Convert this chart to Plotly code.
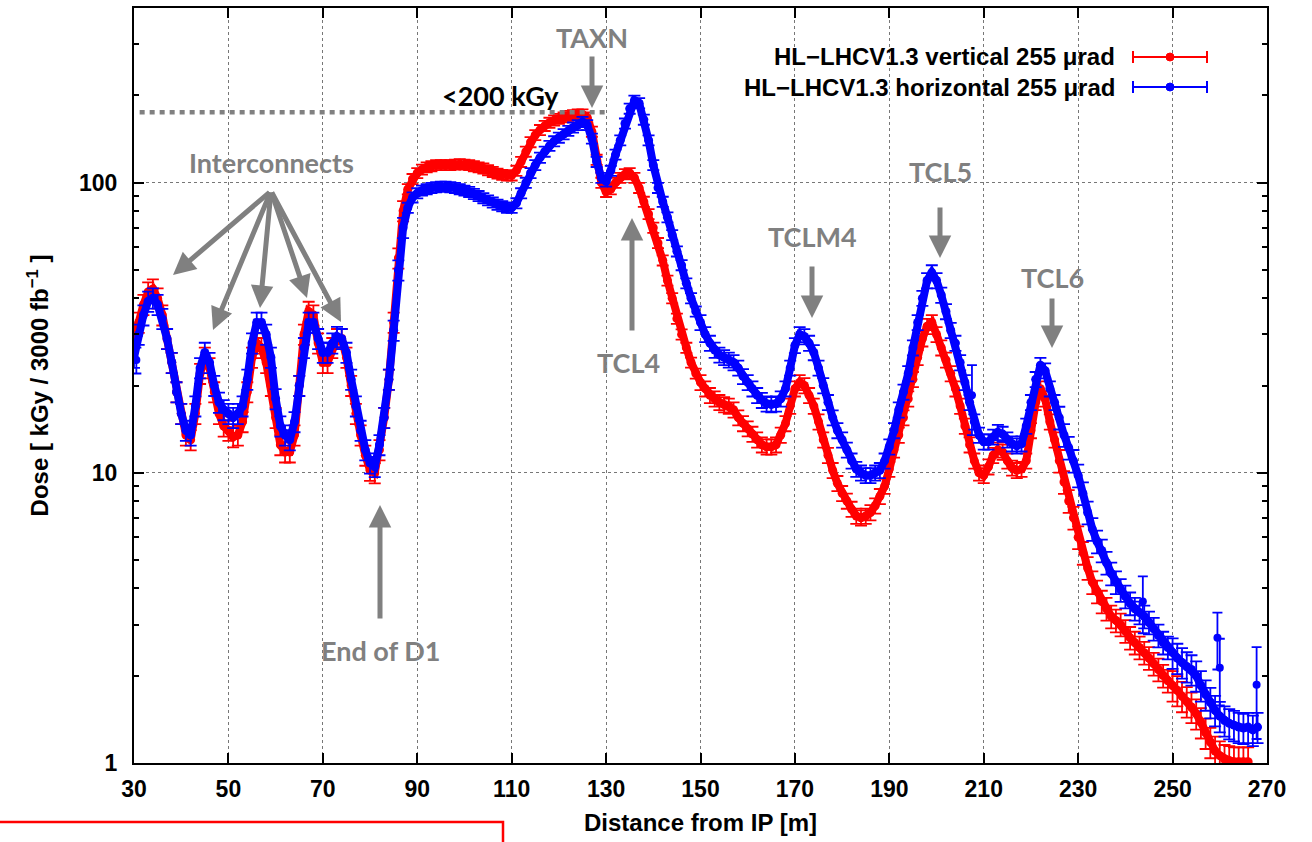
import math
import plotly.graph_objects as go

# ---------------- data ----------------
distance_red = list(range(30, 267))   # m
distance_blue = list(range(30, 269))  # m

dose_vertical = [
    30, 33, 38, 42, 43, 40, 35, 29, 24, 19,
    16, 13.5, 13, 16, 22, 25, 23, 19, 16, 14.5,
    14, 13.3, 13.5, 15, 19, 25, 28, 27, 24, 20,
    15.5, 12.5, 11.8, 11.8, 13.5, 20, 30, 36, 35, 28,
    24, 24, 27, 29, 29, 25, 20, 16, 13.5, 11.5,
    10.2, 10, 12, 15.5, 21, 33, 55, 80, 95, 103,
    108, 111, 113, 114, 115, 115, 115, 115, 115.5, 116,
    115.5, 115, 114, 113, 112, 110.5, 109, 107.5, 106.5, 106,
    106, 110, 118, 128, 138, 146, 152, 157, 161, 164,
    166, 168, 170, 171, 172, 172, 168, 150, 120, 100,
    93, 95, 100, 104, 107, 108, 104, 96, 86, 78,
    70, 62, 54, 46, 40, 34, 30, 27, 24, 22,
    20.5, 19.5, 18.5, 18, 17.5, 17.2, 17, 16.5, 15.5, 14.8,
    14.2, 13.6, 13, 12.5, 12.3, 12.3, 12.5, 13.5, 14.8, 17,
    19.5, 20.5, 20, 18.5, 17, 15, 13, 11.5, 10.2, 9.2,
    8.5, 8, 7.5, 7.1, 7.0, 7.1, 7.3, 7.7, 8.3, 9,
    10.3, 12, 13.5, 15.5, 18, 21, 25, 29, 32, 33,
    30, 27, 24.5, 22, 19.5, 17, 14.5, 12.5, 11, 10,
    9.8, 10.5, 11.5, 12, 11.8, 11, 10.4, 10.2, 10.3, 11,
    14, 17.5, 19.5, 18, 15, 13, 11, 9.3, 8, 7,
    6, 5.3, 4.7, 4.2, 3.9, 3.6, 3.4, 3.2, 3.1, 3.0,
    2.85, 2.7, 2.6, 2.5, 2.4, 2.3, 2.2, 2.1, 2.0, 1.92,
    1.85, 1.78, 1.7, 1.63, 1.56, 1.48, 1.38, 1.27, 1.18, 1.1,
    1.06, 1.03, 1.02, 1.01, 1.01, 1.01, 1.01,
]

dose_horizontal = [
    25, 30, 35, 39, 40, 38, 34, 29, 24, 19,
    16, 14, 13.5, 17, 23, 26, 24, 20, 17.5, 16.5,
    16, 15.5, 16, 17, 21, 28, 33, 33, 30, 25,
    18, 14.5, 13.5, 13, 15, 20, 27, 33, 33, 29,
    26, 26, 28, 29.5, 29, 26, 21, 17, 14, 12,
    10.8, 10.5, 12.5, 15.5, 21, 31, 50, 70, 82, 89,
    92, 94, 95, 96, 96.5, 97, 97, 96.5, 96, 95,
    94, 93, 91.5, 90, 88.5, 87, 85.5, 84, 83, 82,
    82, 85, 92, 100, 108, 115, 122, 128, 134, 139,
    143, 147, 151, 155, 158, 162, 158, 142, 118, 104,
    101, 110, 125, 140, 160, 180, 192, 188, 165, 140,
    115, 96, 86, 76, 66, 58, 52, 45, 40, 36,
    33, 30, 28, 26.5, 25.5, 25, 24.5, 24, 23, 21.5,
    20.5, 19.5, 18.5, 17.8, 17.3, 17.2, 17.3, 18, 19.5, 23,
    27.5, 30, 29.5, 28, 26, 23, 20, 17.5, 15.5, 14,
    13, 12, 11, 10.3, 10, 9.8, 9.8, 10, 10.2, 11,
    12.3, 14, 16.5, 19, 22, 27, 33, 40, 46, 49,
    46, 41, 36, 31, 28, 24, 20.5, 17.5, 15, 13.5,
    12.8, 12.8, 13.3, 13.8, 13.6, 13, 12.6, 12.4, 12.6, 14.5,
    17.5, 21, 23.5, 22.5, 19.5, 17.5, 15.5, 13.5, 12.2, 11,
    9.8, 8.5, 7.3, 6.4, 5.8, 5.4, 4.9, 4.5, 4.2, 3.95,
    3.75, 3.55, 3.4, 3.3, 3.2, 3.05, 2.9, 2.75, 2.6, 2.5,
    2.4, 2.3, 2.22, 2.15, 2.1, 2.0, 1.85, 1.72, 1.62, 1.52,
    1.45, 1.4, 1.37, 1.35, 1.33, 1.32, 1.33, 1.3, 1.33,
]

# relative statistical error by distance band: (from, to, fraction)
error_bands = [(30, 88, 0.08), (88, 150, 0.04), (150, 226, 0.06),
               (226, 250, 0.09), (250, 270, 0.12)]

# a few isolated blue points with large error bars
outlier_x = [30.5, 207.5, 243.7, 260.0, 259.5, 267.8]
outlier_y = [24.5, 18.5, 3.6, 2.13, 2.7, 1.86]
outlier_err = [2.5, 5.0, 0.8, 0.55, 0.6, 0.65]

legend_labels = ["HL\u2212LHCV1.3 vertical 255 \u03bcrad",
                 "HL\u2212LHCV1.3 horizontal 255 \u03bcrad"]
x_ticks = [30, 50, 70, 90, 110, 130, 150, 170, 190, 210, 230, 250, 270]
y_ticks = [1, 10, 100]
limit_value = 175   # "<200 kGy" reference line level
limit_x = [30, 130]

RED = "#ff0000"
BLUE = "#0000ff"
GREY = "#808080"


def rel_err(xs, ys):
    out = []
    for x, y in zip(xs, ys):
        f = 0.05
        for a, b, fr in error_bands:
            if a <= x < b:
                f = fr
                break
        out.append(y * f)
    return out


# ---------------- layout geometry (pixels) ----------------
W, H = 1312, 842
L, R, T, B = 134, 1267, 8, 763


def px(xp):
    return (xp - L) / (R - L)


def py(yp):
    return (B - yp) / (B - T)


fig = go.Figure()

for xs, ys, col, name in [(distance_red, dose_vertical, RED, legend_labels[0]),
                          (distance_blue, dose_horizontal, BLUE, legend_labels[1])]:
    fig.add_trace(go.Scatter(
        x=xs, y=ys, mode="lines+markers", name=name, showlegend=False,
        line=dict(color=col, width=8),
        marker=dict(color=col, size=9, symbol="circle"),
        error_y=dict(type="data", array=rel_err(xs, ys), color=col,
                     thickness=1.8, width=6),
    ))

fig.add_trace(go.Scatter(
    x=outlier_x, y=outlier_y, mode="markers", showlegend=False,
    marker=dict(color=BLUE, size=8),
    error_y=dict(type="data", array=outlier_err, color=BLUE, thickness=1.8, width=5),
))

shapes = []
# dashed 200 kGy line
shapes.append(dict(type="line", xref="x", yref="y", x0=limit_x[0] + 1.2, x1=limit_x[1],
                   y0=limit_value, y1=limit_value,
                   line=dict(color=GREY, width=4.5, dash="5px,5px")))

# manual legend (text left, error-bar glyph right)
for i, col in enumerate([RED, BLUE]):
    yy = 57 + 30 * i
    shapes.append(dict(type="line", xref="paper", yref="paper",
                       x0=px(1133), x1=px(1207), y0=py(yy), y1=py(yy),
                       line=dict(color=col, width=2)))
    for xc in (1133, 1207):
        shapes.append(dict(type="line", xref="paper", yref="paper",
                           x0=px(xc), x1=px(xc), y0=py(yy - 6), y1=py(yy + 6),
                           line=dict(color=col, width=2)))
    shapes.append(dict(type="circle", xref="paper", yref="paper",
                       x0=px(1166), x1=px(1174), y0=py(yy + 4), y1=py(yy - 4),
                       fillcolor=col, line=dict(color=col, width=1)))

# red box fragment at bottom-left
shapes.append(dict(type="rect", xref="paper", yref="paper",
                   x0=px(-10), x1=px(503), y0=py(822), y1=py(870),
                   line=dict(color=RED, width=2.5)))
fig.update_layout(shapes=shapes)

ann = []
for i, lab in enumerate(legend_labels):
    ann.append(dict(xref="paper", yref="paper", x=px(1117), y=py(57 + 30 * i),
                    xanchor="right", yanchor="middle", showarrow=False,
                    text="<b>" + lab + "</b>",
                    font=dict(family="Liberation Sans", size=24, color="black")))


def label(text, xp, yp, color=GREY, size=27):
    ann.append(dict(xref="paper", yref="paper", x=px(xp), y=py(yp), showarrow=False,
                    xanchor="center", yanchor="middle", text="<b>" + text + "</b>",
                    font=dict(family="Lato", size=size, color=color)))


def arrow(tail, tip):
    ann.append(dict(xref="paper", yref="paper", x=px(tip[0]), y=py(tip[1]),
                    ax=tail[0] - tip[0], ay=tail[1] - tip[1], axref="pixel", ayref="pixel",
                    text="", showarrow=True, arrowhead=2, arrowsize=0.9,
                    arrowwidth=5, arrowcolor=GREY, standoff=0, startstandoff=0))


label("Interconnects", 271, 162)
for tip in [(173, 275), (213, 330), (260, 308), (307, 298), (341, 322)]:
    arrow((271, 191), tip)
label("End of D1", 380, 650)
arrow((380, 620), (380, 505))
label("TAXN", 592, 38)
arrow((592, 55), (592, 108))
label("&lt;200 kGy", 500, 96, color="black")
label("TCL4", 628, 362)
arrow((632, 332), (632, 218))
label("TCLM4", 812, 237)
arrow((812, 265), (812, 318))
label("TCL5", 940, 172)
arrow((940, 206), (940, 258))
label("TCL6", 1052, 277)
arrow((1052, 297), (1052, 348))

fig.update_layout(annotations=ann)

tick_font = dict(family="Liberation Sans", size=23, color="black")
fig.update_xaxes(
    range=[30, 270], tickvals=x_ticks, ticktext=["<b>%d</b>" % v for v in x_ticks],
    tickfont=tick_font, ticks="inside", ticklen=10, tickwidth=1.5, tickcolor="black",
    ticklabelstandoff=4,
    showline=True, linecolor="black", linewidth=2, mirror="ticks",
    showgrid=True, gridcolor="#777777", griddash="dot", gridwidth=1,
    zeroline=False,
    title=dict(text="<b>Distance from IP [m]</b>",
               font=dict(family="Liberation Sans", size=24, color="black"),
               standoff=14),
)
fig.update_yaxes(
    type="log", range=[0, math.log10(400)],
    tickvals=y_ticks, ticktext=["<b>%d</b>" % v for v in y_ticks],
    tickfont=tick_font, ticks="inside", ticklen=10, tickwidth=1.5, tickcolor="black",
    ticklabelstandoff=10,
    minor=dict(tickvals=[2, 3, 4, 5, 6, 7, 8, 9, 20, 30, 40, 50, 60, 70, 80, 90, 200, 300, 400],
               ticks="inside", ticklen=5, tickwidth=1.5, tickcolor="black", showgrid=False),
    showline=True, linecolor="black", linewidth=2, mirror="ticks",
    showgrid=True, gridcolor="#777777", griddash="dot", gridwidth=1,
    zeroline=False,
    title=dict(text="<b>Dose [ kGy / 3000 fb<sup>\u22121</sup> ]</b>",
               font=dict(family="Liberation Sans", size=24, color="black"), standoff=24),
)

fig.update_layout(
    width=W, height=H, autosize=False,
    margin=dict(l=L, r=W - R, t=T, b=H - B, autoexpand=False),
    paper_bgcolor="white", plot_bgcolor="white",
    showlegend=False,
)

fig.write_html("out.html")
